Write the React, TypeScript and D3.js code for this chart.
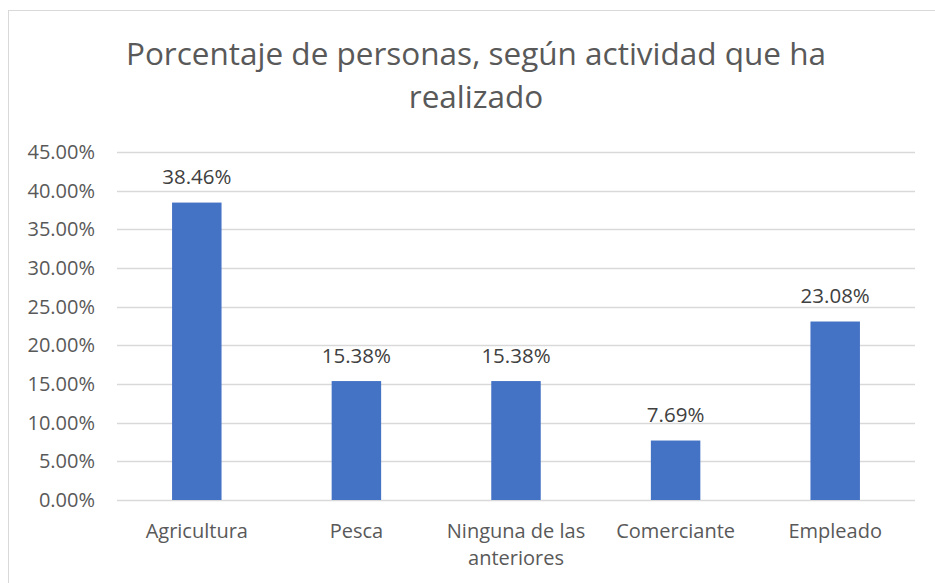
import React, { useEffect, useRef } from "react";
import * as d3 from "d3";

const categories = ["Agricultura", "Pesca", "Ninguna de las anteriores", "Comerciante", "Empleado"];
const values = [38.46, 15.38, 15.38, 7.69, 23.08];
const yTicks = [0, 5, 10, 15, 20, 25, 30, 35, 40, 45];
const titleLines = ["Porcentaje de personas, según actividad que ha", "realizado"];

const FONT = "'Open Sans', Lato, sans-serif";

const App = () => {
  const svgRef = useRef<SVGSVGElement | null>(null);

  useEffect(() => {
    const width = 935;
    const height = 583;
    const plot = { left: 117, right: 915, top: 152, bottom: 500 };

    const svg = d3.select(svgRef.current);
    svg.selectAll("*").remove();

    svg.append("rect").attr("width", width).attr("height", height).attr("fill", "#fff");

    // chart frame
    svg
      .append("rect")
      .attr("x", 8.5)
      .attr("y", 10.5)
      .attr("width", 940)
      .attr("height", 600)
      .attr("fill", "none")
      .attr("stroke", "#d9d9d9");

    const x = d3
      .scaleBand()
      .domain(categories)
      .range([plot.left, plot.right])
      .paddingInner(0.69)
      .paddingOuter(0.345);
    const y = d3.scaleLinear().domain([0, 45]).range([plot.bottom, plot.top]);

    // title
    svg
      .append("text")
      .attr("text-anchor", "middle")
      .attr("font-family", FONT)
      .attr("font-size", 31.5)
      .attr("fill", "#595959")
      .selectAll("tspan")
      .data(titleLines)
      .enter()
      .append("tspan")
      .attr("x", 476)
      .attr("y", (d, i) => 65 + i * 43)
      .text((d) => d);

    // gridlines
    svg
      .append("g")
      .selectAll("line")
      .data(yTicks)
      .enter()
      .append("line")
      .attr("x1", plot.left)
      .attr("x2", plot.right)
      .attr("y1", (d) => Math.round(y(d)) + 0.5)
      .attr("y2", (d) => Math.round(y(d)) + 0.5)
      .attr("stroke", "#d9d9d9")
      .attr("stroke-width", 1.5);

    // y axis labels
    svg
      .append("g")
      .selectAll("text")
      .data(yTicks)
      .enter()
      .append("text")
      .attr("x", 95)
      .attr("y", (d) => y(d) + 7)
      .attr("text-anchor", "end")
      .attr("font-family", FONT)
      .attr("font-size", 20)
      .attr("fill", "#595959")
      .text((d) => d3.format(".2f")(d) + "%");

    // bars
    svg
      .append("g")
      .selectAll("rect")
      .data(values)
      .enter()
      .append("rect")
      .attr("x", (d, i) => x(categories[i]) as number)
      .attr("width", x.bandwidth())
      .attr("y", (d) => y(d))
      .attr("height", (d) => y(0) - y(d))
      .attr("fill", "#4472c4");

    // value labels
    svg
      .append("g")
      .selectAll("text")
      .data(values)
      .enter()
      .append("text")
      .attr("x", (d, i) => (x(categories[i]) as number) + x.bandwidth() / 2)
      .attr("y", (d) => y(d) - 18.5)
      .attr("text-anchor", "middle")
      .attr("font-family", FONT)
      .attr("font-size", 20.5)
      .attr("fill", "#404040")
      .text((d) => d3.format(".2f")(d) + "%");

    // category labels (wrap the long one onto two lines)
    const wrapLabel = (s: string) => (s.length > 15 ? ["Ninguna de las", "anteriores"] : [s]);
    const catG = svg.append("g");
    categories.forEach((c) => {
      const t = catG
        .append("text")
        .attr("text-anchor", "middle")
        .attr("font-family", FONT)
        .attr("font-size", 20)
        .attr("fill", "#595959");
      wrapLabel(c).forEach((line, j) => {
        t.append("tspan")
          .attr("x", (x(c) as number) + x.bandwidth() / 2)
          .attr("y", 538 + j * 27)
          .text(line);
      });
    });
  }, []);

  return (
    <div style={{ position: "absolute", left: 0, top: 0 }}>
      <svg ref={svgRef} width={935} height={583} style={{ display: "block" }} />
    </div>
  );
};

export default App;
